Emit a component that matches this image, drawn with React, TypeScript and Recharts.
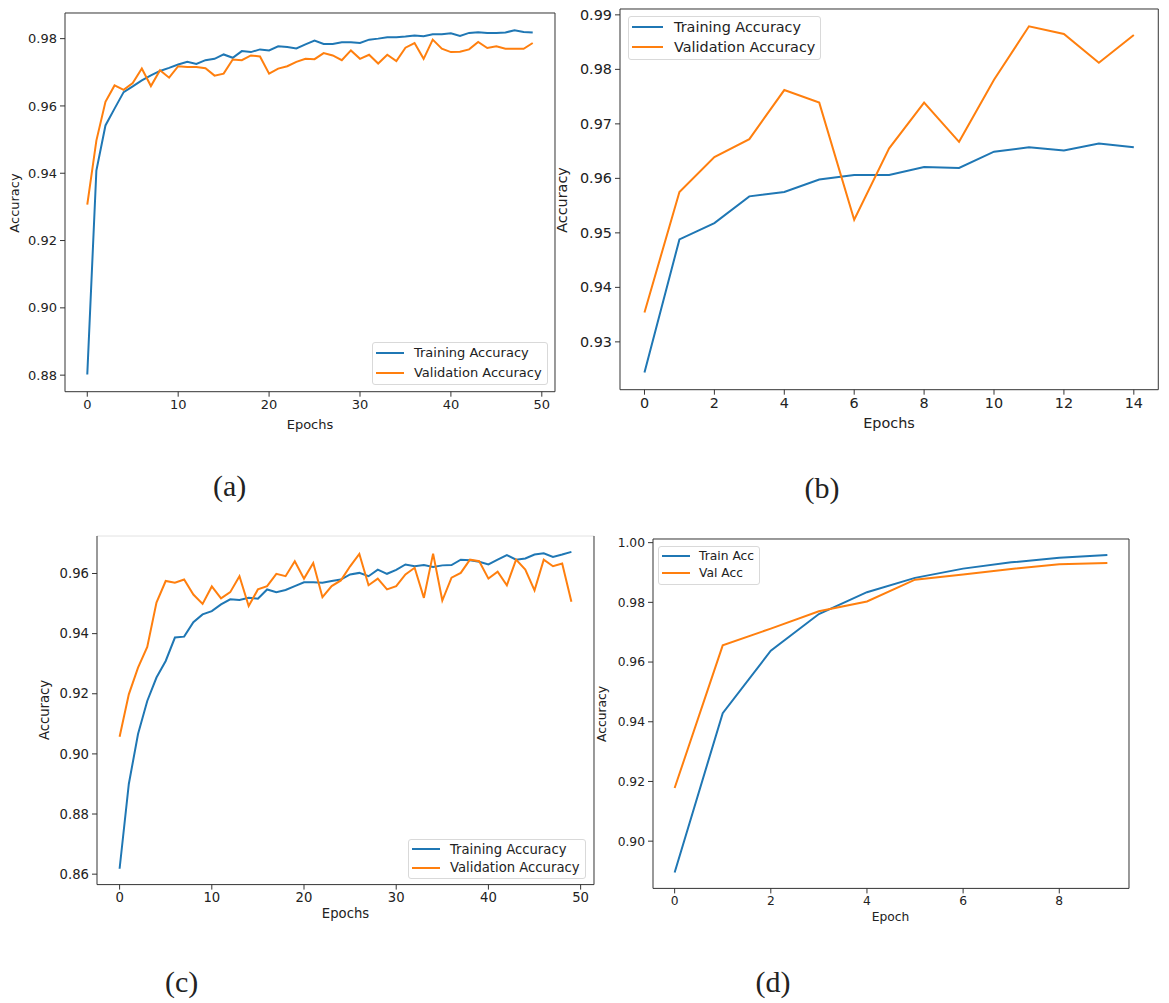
import { LineChart, Line, XAxis, YAxis, ReferenceLine, Legend } from "recharts";

const FONT = '"DejaVu Sans", sans-serif';
const SERIF = '"Liberation Serif", "Times New Roman", serif';
const BLUE = "#1f77b4";
const ORANGE = "#ff7f0e";

// (a) 50 epochs
const trainA = [0.8802, 0.9408, 0.9542, 0.9592, 0.9641, 0.9658, 0.9676, 0.9691, 0.9704, 0.9713, 0.9723, 0.9731, 0.9725, 0.9736, 0.974, 0.9753, 0.9743, 0.9763, 0.976, 0.9768, 0.9765, 0.9777, 0.9775, 0.9771, 0.9783, 0.9794, 0.9784, 0.9784, 0.9789, 0.9789, 0.9787, 0.9797, 0.98, 0.9804, 0.9804, 0.9806, 0.9809, 0.9807, 0.9813, 0.9813, 0.9816, 0.9808, 0.9817, 0.9819, 0.9817, 0.9817, 0.9818, 0.9825, 0.982, 0.9818];
const valA = [0.9307, 0.9497, 0.9612, 0.9661, 0.9648, 0.9668, 0.9711, 0.9659, 0.9706, 0.9684, 0.9718, 0.9716, 0.9716, 0.9712, 0.969, 0.9696, 0.9738, 0.9736, 0.975, 0.9747, 0.9696, 0.9711, 0.9718, 0.9731, 0.974, 0.9739, 0.9757, 0.975, 0.9736, 0.9765, 0.974, 0.9752, 0.9726, 0.9752, 0.9733, 0.9773, 0.9787, 0.974, 0.9797, 0.977, 0.976, 0.9761, 0.9768, 0.979, 0.9772, 0.9777, 0.977, 0.977, 0.977, 0.9787];
const xTicksA = [0, 10, 20, 30, 40, 50];
const yTicksA = [0.88, 0.9, 0.92, 0.94, 0.96, 0.98];
const namesA = ["Training Accuracy", "Validation Accuracy"];

// (b) 15 epochs
const trainB = [0.9244, 0.9488, 0.9518, 0.9567, 0.9575, 0.9598, 0.9606, 0.9606, 0.9621, 0.9619, 0.9649, 0.9657, 0.9651, 0.9664, 0.9657];
const valB = [0.9354, 0.9575, 0.9639, 0.9672, 0.9762, 0.9739, 0.9524, 0.9655, 0.9739, 0.9667, 0.9781, 0.9879, 0.9865, 0.9812, 0.9863];
const xTicksB = [0, 2, 4, 6, 8, 10, 12, 14];
const yTicksB = [0.93, 0.94, 0.95, 0.96, 0.97, 0.98, 0.99];
const namesB = ["Training Accuracy", "Validation Accuracy"];

// (c) 50 epochs
const trainC = [0.8618, 0.89, 0.9066, 0.9176, 0.9254, 0.9309, 0.9387, 0.939, 0.9438, 0.9464, 0.9475, 0.9497, 0.9514, 0.9512, 0.9519, 0.9516, 0.9547, 0.9538, 0.9545, 0.9558, 0.9571, 0.9571, 0.9569, 0.9575, 0.958, 0.9597, 0.9602, 0.9591, 0.9613, 0.9599, 0.9612, 0.963, 0.9624, 0.9628, 0.9622, 0.9627, 0.9628, 0.9646, 0.9644, 0.9639, 0.963, 0.9646, 0.9661, 0.9646, 0.965, 0.9663, 0.9667, 0.9655, 0.9663, 0.9672];
const valC = [0.9057, 0.9198, 0.9287, 0.9356, 0.9503, 0.9575, 0.9569, 0.958, 0.953, 0.9499, 0.9557, 0.9517, 0.9538, 0.9591, 0.9492, 0.9547, 0.9558, 0.9599, 0.9591, 0.9641, 0.9583, 0.9635, 0.9521, 0.9558, 0.9577, 0.9624, 0.9665, 0.9561, 0.9583, 0.9547, 0.9558, 0.9597, 0.9619, 0.9519, 0.9666, 0.951, 0.9586, 0.9602, 0.9646, 0.9641, 0.9583, 0.9606, 0.9561, 0.9646, 0.9613, 0.9544, 0.9646, 0.9624, 0.9633, 0.9506];
const xTicksC = [0, 10, 20, 30, 40, 50];
const yTicksC = [0.86, 0.88, 0.9, 0.92, 0.94, 0.96];
const namesC = ["Training Accuracy", "Validation Accuracy"];

// (d) 10 epochs
const trainD = [0.8895, 0.9429, 0.9638, 0.9761, 0.9834, 0.9882, 0.9913, 0.9934, 0.9949, 0.9959];
const valD = [0.9178, 0.9656, 0.9712, 0.977, 0.9803, 0.9876, 0.9893, 0.9912, 0.9928, 0.9932];
const xTicksD = [0, 2, 4, 6, 8];
const yTicksD = [0.9, 0.92, 0.94, 0.96, 0.98, 1.0];
const namesD = ["Train Acc", "Val Acc"];

type Box = { l: number; t: number; r: number; b: number };
type LegendSpec = { x: number; y: number; handle: number; gap: number; row: number; pb: number; pr: number };

function LegendBox({ names, font, spec }: { names: string[]; font: number; spec: LegendSpec }) {
  const colors = [BLUE, ORANGE];
  return (
    <div
      style={{
        border: "1px solid #d9d9d9",
        borderRadius: 3,
        background: "rgba(255,255,255,0.85)",
        padding: `0px ${spec.pr}px ${spec.pb}px 3px`,
        fontFamily: FONT,
        fontSize: font,
        color: "#222",
        whiteSpace: "nowrap",
      }}
    >
      {names.map((n, i) => (
        <div key={n} style={{ display: "flex", alignItems: "center", height: spec.row }}>
          <svg width={spec.handle} height={4} style={{ display: "block" }}>
            <line x1={0} y1={2} x2={spec.handle} y2={2} stroke={colors[i]} strokeWidth={2} />
          </svg>
          <span style={{ marginLeft: spec.gap, lineHeight: 1 }}>{n}</span>
        </div>
      ))}
    </div>
  );
}

function Panel({
  box, train, val, xTicks, yTicks, names, font, legend, topColor = "#333",
}: {
  box: Box; train: number[]; val: number[]; xTicks: number[]; yTicks: number[];
  names: string[]; font: number; legend: LegendSpec; topColor?: string;
}) {
  const chartL = box.l - 60;
  const chartT = box.t - 10;
  const width = box.r - box.l + 70;
  const height = box.b - box.t + 50;
  const rows = train.map((v, i) => ({ epoch: i, train: v, val: val[i] }));
  // matplotlib style 5% margins
  const n = train.length - 1;
  const all = [...train, ...val];
  const lo = Math.min(...all);
  const hi = Math.max(...all);
  const xDomain = [-n * 0.05, n * 1.05];
  const yDomain = [lo - (hi - lo) * 0.05, hi + (hi - lo) * 0.05];
  const tick = { fill: "#222", fontSize: font, fontFamily: FONT };

  return (
    <div style={{ position: "absolute", left: chartL, top: chartT }}>
      <LineChart width={width} height={height} data={rows} margin={{ top: 10, right: 10, left: 0, bottom: 0 }}>
        <XAxis
          dataKey="epoch"
          type="number"
          domain={xDomain}
          ticks={xTicks}
          allowDataOverflow
          height={40}
          tickSize={5}
          tickMargin={3}
          stroke="#333"
          tick={tick}
        />
        <YAxis
          type="number"
          domain={yDomain}
          ticks={yTicks}
          allowDataOverflow
          width={60}
          tickSize={5}
          tickMargin={3}
          stroke="#333"
          tick={tick}
          tickFormatter={(v: number) => v.toFixed(2)}
        />
        <ReferenceLine y={yDomain[1]} stroke={topColor} strokeWidth={1} />
        <ReferenceLine x={xDomain[1]} stroke="#333" strokeWidth={1} />
        <Line dataKey="train" name={names[0]} stroke={BLUE} strokeWidth={2} dot={false} isAnimationActive={false} />
        <Line dataKey="val" name={names[1]} stroke={ORANGE} strokeWidth={2} dot={false} isAnimationActive={false} />
        <Legend
          layout="vertical"
          align="center"
          verticalAlign="middle"
          wrapperStyle={{ left: legend.x - chartL, top: legend.y - chartT, width: "auto" }}
          content={() => <LegendBox names={names} font={font} spec={legend} />}
        />
      </LineChart>
    </div>
  );
}

function TextAt({ x, y, size, family = FONT, rotate = false, children }: {
  x: number; y: number; size: number; family?: string; rotate?: boolean; children: string;
}) {
  return (
    <div
      style={{
        position: "absolute",
        left: x,
        top: y,
        transform: `translate(-50%, -50%)${rotate ? " rotate(-90deg)" : ""}`,
        fontSize: size,
        fontFamily: family,
        lineHeight: 1,
        whiteSpace: "nowrap",
        color: "#222",
      }}
    >
      {children}
    </div>
  );
}

export default function App() {
  return (
    <div style={{ position: "absolute", left: 0, top: 0, width: 1169, height: 1003, background: "#fff", overflow: "hidden" }}>
      <Panel
        box={{ l: 65.4, t: 13.3, r: 555.4, b: 392 }}
        train={trainA} val={valA} xTicks={xTicksA} yTicks={yTicksA} names={namesA} font={13}
        legend={{ x: 372, y: 342, handle: 28, gap: 10, row: 20, pb: 1, pr: 5 }}
      />
      <Panel
        box={{ l: 620.2, t: 9.3, r: 1158.5, b: 390 }}
        train={trainB} val={valB} xTicks={xTicksB} yTicks={yTicksB} names={namesB} font={14.4}
        legend={{ x: 628, y: 16, handle: 31, gap: 11, row: 20, pb: 2, pr: 5 }}
      />
      <Panel
        box={{ l: 97, t: 535.7, r: 594, b: 884.3 }}
        train={trainC} val={valC} xTicks={xTicksC} yTicks={yTicksC} names={namesC} font={13.2}
        legend={{ x: 408, y: 839, handle: 28, gap: 10, row: 18.4, pb: 1, pr: 5 }}
        topColor="#e2e2e2"
      />
      <Panel
        box={{ l: 652.5, t: 539.3, r: 1128.5, b: 888.7 }}
        train={trainD} val={valD} xTicks={xTicksD} yTicks={yTicksD} names={namesD} font={12.3}
        legend={{ x: 658, y: 546, handle: 28, gap: 9, row: 17.6, pb: 2, pr: 5 }}
      />

      <TextAt x={13.5} y={203} size={13} rotate>Accuracy</TextAt>
      <TextAt x={310} y={424} size={13}>Epochs</TextAt>
      <TextAt x={562} y={200} size={14.4} rotate>Accuracy</TextAt>
      <TextAt x={889} y={423} size={14.4}>Epochs</TextAt>
      <TextAt x={44.5} y={710} size={13.2} rotate>Accuracy</TextAt>
      <TextAt x={345.5} y={914} size={13.2}>Epochs</TextAt>
      <TextAt x={602} y={714} size={12.3} rotate>Accuracy</TextAt>
      <TextAt x={890.5} y={917} size={12.3}>Epoch</TextAt>

      <TextAt x={229.7} y={486} size={30} family={SERIF}>(a)</TextAt>
      <TextAt x={822} y={488} size={30} family={SERIF}>(b)</TextAt>
      <TextAt x={181.7} y={982} size={30} family={SERIF}>(c)</TextAt>
      <TextAt x={773} y={982} size={30} family={SERIF}>(d)</TextAt>
    </div>
  );
}
